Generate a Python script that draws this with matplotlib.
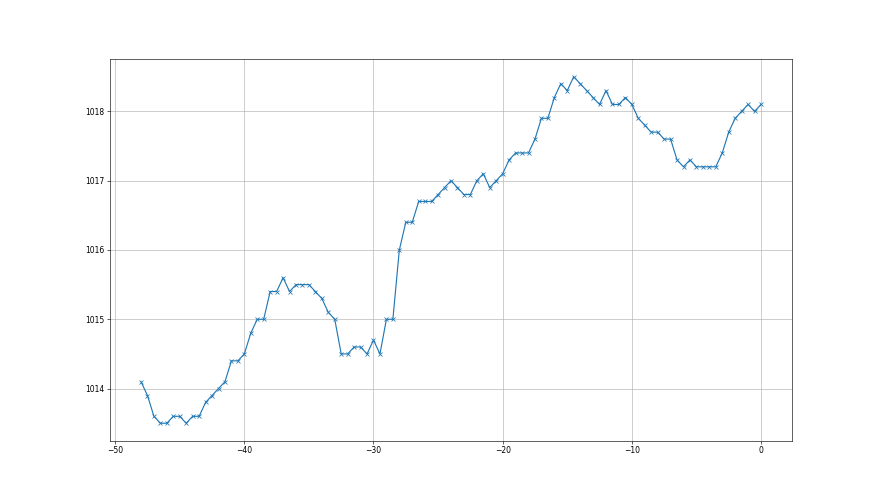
import numpy as np
import matplotlib.pyplot as plt

hours = np.arange(-48, 0.5, 0.5)
pressure = [
    1014.1, 1013.9, 1013.6, 1013.5, 1013.5, 1013.6, 1013.6, 1013.5, 1013.6, 1013.6,
    1013.8, 1013.9, 1014.0, 1014.1, 1014.4, 1014.4, 1014.5, 1014.8, 1015.0, 1015.0,
    1015.4, 1015.4, 1015.6, 1015.4, 1015.5, 1015.5, 1015.5, 1015.4, 1015.3, 1015.1,
    1015.0, 1014.5, 1014.5, 1014.6, 1014.6, 1014.5, 1014.7, 1014.5, 1015.0, 1015.0,
    1016.0, 1016.4, 1016.4, 1016.7, 1016.7, 1016.7, 1016.8, 1016.9, 1017.0, 1016.9,
    1016.8, 1016.8, 1017.0, 1017.1, 1016.9, 1017.0, 1017.1, 1017.3, 1017.4, 1017.4,
    1017.4, 1017.6, 1017.9, 1017.9, 1018.2, 1018.4, 1018.3, 1018.5, 1018.4, 1018.3,
    1018.2, 1018.1, 1018.3, 1018.1, 1018.1, 1018.2, 1018.1, 1017.9, 1017.8, 1017.7,
    1017.7, 1017.6, 1017.6, 1017.3, 1017.2, 1017.3, 1017.2, 1017.2, 1017.2, 1017.2,
    1017.4, 1017.7, 1017.9, 1018.0, 1018.1, 1018.0, 1018.1,
]

fig = plt.figure(figsize=(16, 9), dpi=55)
ax = fig.add_subplot(111)
ax.plot(hours, pressure, marker='x', color='#1f77b4')
ax.grid(True)
plt.savefig("out.png", dpi=55)
plt.close()
